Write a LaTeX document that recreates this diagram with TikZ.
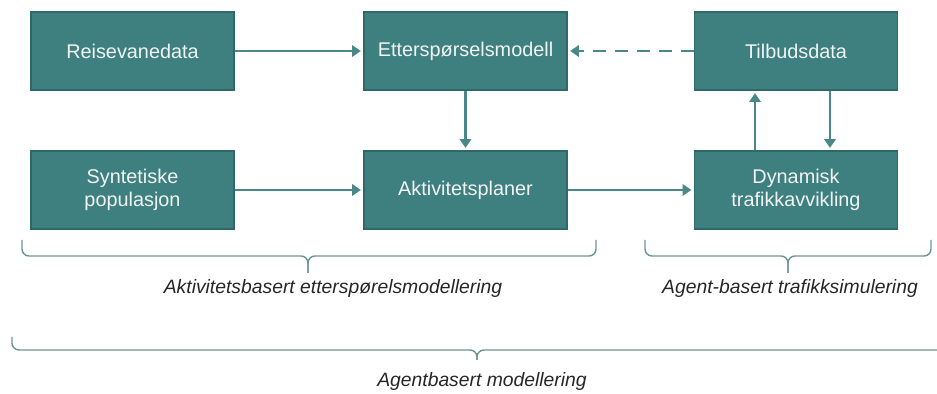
\documentclass[tikz,border=0pt]{standalone}
\usepackage{fontspec}
\setmainfont{Liberation Sans}
\usetikzlibrary{arrows.meta}
\definecolor{boksfarge}{HTML}{3E7F80}
\definecolor{boksrand}{HTML}{2E6868}
\definecolor{tekstfarge}{HTML}{F2F4F4}
\definecolor{pilfarge}{HTML}{4A8787}
\definecolor{klammefarge}{HTML}{6E9393}
\tikzset{
	boks/.style={draw=boksrand, fill=boksfarge, text=tekstfarge, line width=0.6pt,
		minimum width=4.06cm, minimum height=1.56cm, align=center,
		font=\fontsize{11.3}{13.5}\selectfont},
	pil/.style={draw=pilfarge, line width=1.6pt, shorten >=1.5pt,
		-{Triangle[length=5pt,width=6.5pt]}},
	klamme/.style={draw=klammefarge, line width=0.8pt, rounded corners=4pt},
	etikett/.style={font=\fontsize{11}{13}\selectfont\itshape, text=black!85}
}
\begin{document}
\begin{tikzpicture}[x=0.02cm,y=-0.02cm]
		\useasboundingbox (0,0) rectangle (937,394);
		
		%bokser
		\node[boks] (reise) at (132.5,51) {Reisevanedata};
		\node[boks] (ettersp) at (465.5,51) {Etterspørselsmodell};
		\node[boks] (tilbud) at (796,51) {Tilbudsdata};
		\node[boks] (synt) at (132.5,190) {Syntetiske\\populasjon};
		\node[boks] (aktiv) at (465.5,190) {Aktivitetsplaner};
		\node[boks] (dyn) at (796,190) {Dynamisk\\trafikkavvikling};
		
		%piler
		\draw[pil] (reise) -- (ettersp);
		\draw[pil] (synt) -- (aktiv);
		\draw[pil] (aktiv) -- (dyn);
		\draw[pil] (ettersp) -- (aktiv);
		\draw[pil, dash pattern=on 7.5pt off 5pt] (tilbud) -- (ettersp);
		\draw[pil] ([xshift=-0.82cm]dyn.north) -- ([xshift=-0.82cm]tilbud.south);
		\draw[pil] ([xshift=0.68cm]tilbud.south) -- ([xshift=0.68cm]dyn.north);
		
		%klammer
		\draw[klamme] (22,240) -- (22,256) -- (308,256) -- (308,273);
		\draw[klamme] (308,273) -- (308,256) -- (596,256) -- (596,240);
		\draw[klamme] (645,240) -- (645,256) -- (788,256) -- (788,273);
		\draw[klamme] (788,273) -- (788,256) -- (931,256) -- (931,240);
		\draw[klamme] (12,337) -- (12,350) -- (477,350) -- (477,360);
		\draw[klamme] (477,360) -- (477,350) -- (937,350);
		
		\node[etikett] (aktlbl) at (333,289) {Aktivitetsbasert etterspørelsmodellering};
		\node[etikett] (agentlbl) at (790,289) {Agent-basert trafikksimulering};
		\node[etikett] (heltlbl) at (482,382) {Agentbasert modellering};
\end{tikzpicture}
\end{document}
